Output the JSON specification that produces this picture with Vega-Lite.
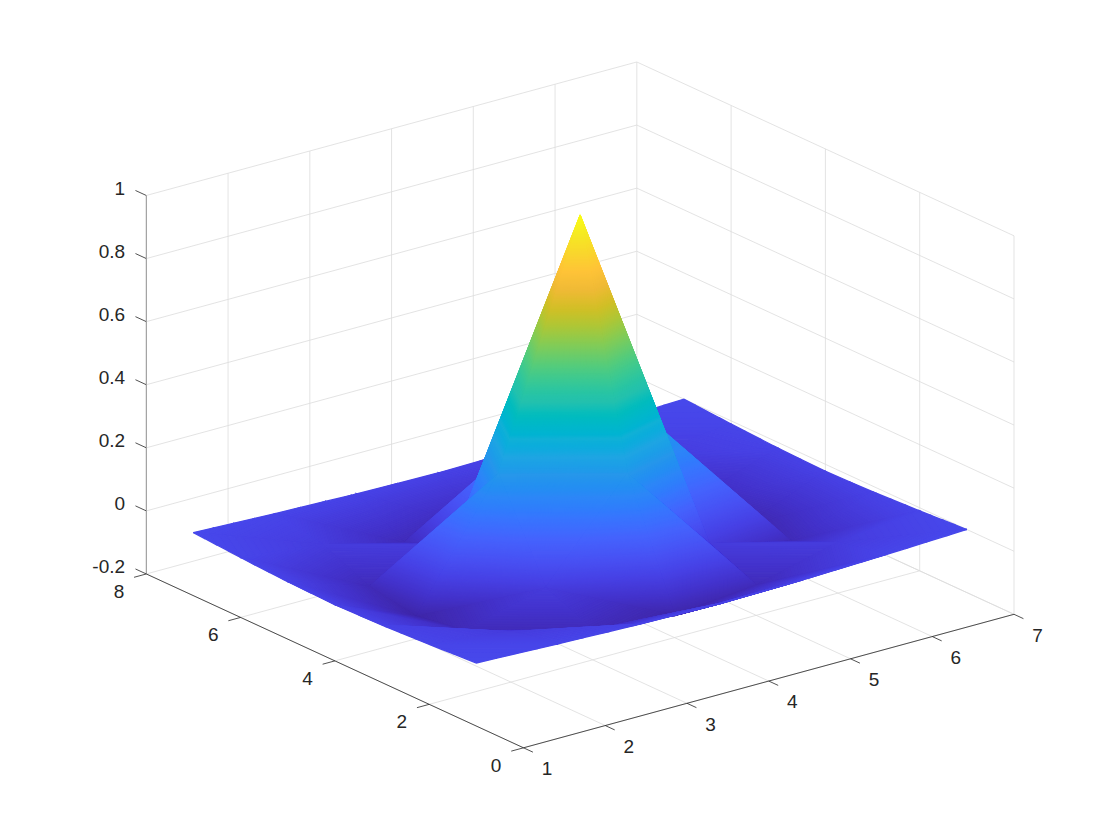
{
"$schema":"https://vega.github.io/schema/vega-lite/v6.json",
"width":1120,"height":840,"padding":0,
"autosize":{"type":"fit","contains":"padding"},
"background":"white",
"config":{"view":{"stroke":null}},
"datasets":{
"grid":[
{"id":77,"x":7,"y":7,"z":0},{"id":76,"x":7,"y":6,"z":-0.01},{"id":75,"x":7,"y":5,"z":-0.018},{"id":74,"x":7,"y":4,"z":-0.022},{"id":73,"x":7,"y":3,"z":-0.018},{"id":72,"x":7,"y":2,"z":-0.01},{"id":71,"x":7,"y":1,"z":0},
{"id":67,"x":6,"y":7,"z":-0.01},{"id":66,"x":6,"y":6,"z":-0.04},{"id":65,"x":6,"y":5,"z":-0.105},{"id":64,"x":6,"y":4,"z":-0.13},{"id":63,"x":6,"y":3,"z":-0.105},{"id":62,"x":6,"y":2,"z":-0.04},{"id":61,"x":6,"y":1,"z":-0.01},
{"id":57,"x":5,"y":7,"z":-0.018},{"id":56,"x":5,"y":6,"z":-0.105},{"id":55,"x":5,"y":5,"z":-0.042},{"id":54,"x":5,"y":4,"z":0.25},{"id":53,"x":5,"y":3,"z":-0.042},{"id":52,"x":5,"y":2,"z":-0.105},{"id":51,"x":5,"y":1,"z":-0.018},
{"id":47,"x":4,"y":7,"z":-0.022},{"id":46,"x":4,"y":6,"z":-0.13},{"id":45,"x":4,"y":5,"z":0.25},{"id":44,"x":4,"y":4,"z":1},{"id":43,"x":4,"y":3,"z":0.25},{"id":42,"x":4,"y":2,"z":-0.13},{"id":41,"x":4,"y":1,"z":-0.022},
{"id":37,"x":3,"y":7,"z":-0.018},{"id":36,"x":3,"y":6,"z":-0.105},{"id":35,"x":3,"y":5,"z":-0.042},{"id":34,"x":3,"y":4,"z":0.25},{"id":33,"x":3,"y":3,"z":-0.042},{"id":32,"x":3,"y":2,"z":-0.105},{"id":31,"x":3,"y":1,"z":-0.018},
{"id":27,"x":2,"y":7,"z":-0.01},{"id":26,"x":2,"y":6,"z":-0.04},{"id":25,"x":2,"y":5,"z":-0.105},{"id":24,"x":2,"y":4,"z":-0.13},{"id":23,"x":2,"y":3,"z":-0.105},{"id":22,"x":2,"y":2,"z":-0.04},{"id":21,"x":2,"y":1,"z":-0.01},
{"id":17,"x":1,"y":7,"z":0},{"id":16,"x":1,"y":6,"z":-0.01},{"id":15,"x":1,"y":5,"z":-0.018},{"id":14,"x":1,"y":4,"z":-0.022},{"id":13,"x":1,"y":3,"z":-0.018},{"id":12,"x":1,"y":2,"z":-0.01},{"id":11,"x":1,"y":1,"z":0}
],
"segments":[
{"k":"g","x":1,"y":0,"z":-0.2,"x2":1,"y2":8,"z2":-0.2},{"k":"g","x":2,"y":0,"z":-0.2,"x2":2,"y2":8,"z2":-0.2},{"k":"g","x":3,"y":0,"z":-0.2,"x2":3,"y2":8,"z2":-0.2},{"k":"g","x":4,"y":0,"z":-0.2,"x2":4,"y2":8,"z2":-0.2},{"k":"g","x":5,"y":0,"z":-0.2,"x2":5,"y2":8,"z2":-0.2},{"k":"g","x":6,"y":0,"z":-0.2,"x2":6,"y2":8,"z2":-0.2},{"k":"g","x":7,"y":0,"z":-0.2,"x2":7,"y2":8,"z2":-0.2},
{"k":"g","x":2,"y":8,"z":-0.2,"x2":2,"y2":8,"z2":1},{"k":"g","x":3,"y":8,"z":-0.2,"x2":3,"y2":8,"z2":1},{"k":"g","x":4,"y":8,"z":-0.2,"x2":4,"y2":8,"z2":1},{"k":"g","x":5,"y":8,"z":-0.2,"x2":5,"y2":8,"z2":1},{"k":"g","x":6,"y":8,"z":-0.2,"x2":6,"y2":8,"z2":1},{"k":"g","x":7,"y":8,"z":-0.2,"x2":7,"y2":8,"z2":1},
{"k":"g","x":1,"y":0,"z":-0.2,"x2":7,"y2":0,"z2":-0.2},{"k":"g","x":1,"y":2,"z":-0.2,"x2":7,"y2":2,"z2":-0.2},{"k":"g","x":1,"y":4,"z":-0.2,"x2":7,"y2":4,"z2":-0.2},{"k":"g","x":1,"y":6,"z":-0.2,"x2":7,"y2":6,"z2":-0.2},{"k":"g","x":1,"y":8,"z":-0.2,"x2":7,"y2":8,"z2":-0.2},
{"k":"g","x":7,"y":0,"z":-0.2,"x2":7,"y2":0,"z2":1},{"k":"g","x":7,"y":2,"z":-0.2,"x2":7,"y2":2,"z2":1},{"k":"g","x":7,"y":4,"z":-0.2,"x2":7,"y2":4,"z2":1},{"k":"g","x":7,"y":6,"z":-0.2,"x2":7,"y2":6,"z2":1},
{"k":"g","x":1,"y":8,"z":0,"x2":7,"y2":8,"z2":0},{"k":"g","x":1,"y":8,"z":0.2,"x2":7,"y2":8,"z2":0.2},{"k":"g","x":1,"y":8,"z":0.4,"x2":7,"y2":8,"z2":0.4},{"k":"g","x":1,"y":8,"z":0.6,"x2":7,"y2":8,"z2":0.6},{"k":"g","x":1,"y":8,"z":0.8,"x2":7,"y2":8,"z2":0.8},{"k":"g","x":1,"y":8,"z":1,"x2":7,"y2":8,"z2":1},
{"k":"g","x":7,"y":8,"z":-0.2,"x2":7,"y2":0,"z2":-0.2},{"k":"g","x":7,"y":8,"z":0,"x2":7,"y2":0,"z2":0},{"k":"g","x":7,"y":8,"z":0.2,"x2":7,"y2":0,"z2":0.2},{"k":"g","x":7,"y":8,"z":0.4,"x2":7,"y2":0,"z2":0.4},{"k":"g","x":7,"y":8,"z":0.6,"x2":7,"y2":0,"z2":0.6},{"k":"g","x":7,"y":8,"z":0.8,"x2":7,"y2":0,"z2":0.8},{"k":"g","x":7,"y":8,"z":1,"x2":7,"y2":0,"z2":1},
{"k":"a","x":1,"y":0,"z":-0.2,"x2":7,"y2":0,"z2":-0.2},{"k":"a","x":1,"y":0,"z":-0.2,"x2":1,"y2":8,"z2":-0.2},{"k":"v","x":1,"y":8,"z":-0.2,"x2":1,"y2":8,"z2":1},
{"k":"a","x":1,"y":0,"z":-0.2,"x2":1,"y2":-0.2,"z2":-0.2},{"k":"a","x":2,"y":0,"z":-0.2,"x2":2,"y2":-0.2,"z2":-0.2},{"k":"a","x":3,"y":0,"z":-0.2,"x2":3,"y2":-0.2,"z2":-0.2},{"k":"a","x":4,"y":0,"z":-0.2,"x2":4,"y2":-0.2,"z2":-0.2},{"k":"a","x":5,"y":0,"z":-0.2,"x2":5,"y2":-0.2,"z2":-0.2},{"k":"a","x":6,"y":0,"z":-0.2,"x2":6,"y2":-0.2,"z2":-0.2},{"k":"a","x":7,"y":0,"z":-0.2,"x2":7,"y2":-0.2,"z2":-0.2},
{"k":"a","x":1,"y":0,"z":-0.2,"x2":0.85,"y2":0,"z2":-0.2},{"k":"a","x":1,"y":2,"z":-0.2,"x2":0.85,"y2":2,"z2":-0.2},{"k":"a","x":1,"y":4,"z":-0.2,"x2":0.85,"y2":4,"z2":-0.2},{"k":"a","x":1,"y":6,"z":-0.2,"x2":0.85,"y2":6,"z2":-0.2},{"k":"a","x":1,"y":8,"z":-0.2,"x2":0.85,"y2":8,"z2":-0.2},
{"k":"a","x":1,"y":8,"z":-0.2,"x2":1,"y2":8.23,"z2":-0.2},{"k":"a","x":1,"y":8,"z":0,"x2":1,"y2":8.23,"z2":0},{"k":"a","x":1,"y":8,"z":0.2,"x2":1,"y2":8.23,"z2":0.2},{"k":"a","x":1,"y":8,"z":0.4,"x2":1,"y2":8.23,"z2":0.4},{"k":"a","x":1,"y":8,"z":0.6,"x2":1,"y2":8.23,"z2":0.6},{"k":"a","x":1,"y":8,"z":0.8,"x2":1,"y2":8.23,"z2":0.8},{"k":"a","x":1,"y":8,"z":1,"x2":1,"y2":8.23,"z2":1}
],
"labels":[
{"axis":"x","value":1,"label":"1"},{"axis":"x","value":2,"label":"2"},{"axis":"x","value":3,"label":"3"},{"axis":"x","value":4,"label":"4"},{"axis":"x","value":5,"label":"5"},{"axis":"x","value":6,"label":"6"},{"axis":"x","value":7,"label":"7"},
{"axis":"y","value":0,"label":"0"},{"axis":"y","value":2,"label":"2"},{"axis":"y","value":4,"label":"4"},{"axis":"y","value":6,"label":"6"},{"axis":"y","value":8,"label":"8"},
{"axis":"z","value":-0.2,"label":"-0.2"},{"axis":"z","value":0,"label":"0"},{"axis":"z","value":0.2,"label":"0.2"},{"axis":"z","value":0.4,"label":"0.4"},{"axis":"z","value":0.6,"label":"0.6"},{"axis":"z","value":0.8,"label":"0.8"},{"axis":"z","value":1,"label":"1"}
]
},
"layer":[
{
"data":{"name":"segments"},
"transform":[
{"calculate":"523.5+81.75*(datum.x-1)-47.15*datum.y","as":"sx"},
{"calculate":"747.8-22.25*(datum.x-1)-21.73*datum.y-315.4*(datum.z+0.2)","as":"sy"},
{"calculate":"523.5+81.75*(datum.x2-1)-47.15*datum.y2","as":"sx2"},
{"calculate":"747.8-22.25*(datum.x2-1)-21.73*datum.y2-315.4*(datum.z2+0.2)","as":"sy2"}
],
"mark":{"type":"rule","strokeWidth":0.8},
"encoding":{
"x":{"field":"sx","type":"quantitative","axis":null,"scale":{"domain":[0,1120],"nice":false,"zero":false}},
"y":{"field":"sy","type":"quantitative","axis":null,"scale":{"domain":[840,0],"nice":false,"zero":false}},
"x2":{"field":"sx2"},"y2":{"field":"sy2"},
"color":{"field":"k","type":"nominal","legend":null,"scale":{"domain":["g","a","v"],"range":["#dcdcdc","#262626","#707070"]}},
"order":{"field":"k","sort":"descending"}
}
},
{
"data":{"name":"grid"},
"transform":[
{"filter":"datum.x<7&&datum.y<7"},
{"calculate":"datum.id+10","as":"ka"},{"calculate":"datum.id+1","as":"kb"},{"calculate":"datum.id+11","as":"kc"},
{"lookup":"ka","from":{"data":{"name":"grid"},"key":"id","fields":["z"]},"as":["za"]},
{"lookup":"kb","from":{"data":{"name":"grid"},"key":"id","fields":["z"]},"as":["zb"]},
{"lookup":"kc","from":{"data":{"name":"grid"},"key":"id","fields":["z"]},"as":["zc"]},
{"calculate":"[1,0]","as":"tri"},{"flatten":["tri"]},
{"calculate":"[datum.tri?datum.x+1:datum.x,datum.x+1,datum.x]","as":"vxs"},
{"calculate":"[datum.tri?datum.y+1:datum.y,datum.y,datum.y+1]","as":"vys"},
{"calculate":"[datum.tri?datum.zc:datum.z,datum.za,datum.zb]","as":"vzs"},
{"calculate":"datum.vzs[0]<=datum.vzs[1]&&datum.vzs[0]<=datum.vzs[2]?0:(datum.vzs[1]<=datum.vzs[2]?1:2)","as":"lo"},
{"calculate":"datum.vzs[2]>=datum.vzs[0]&&datum.vzs[2]>=datum.vzs[1]?2:(datum.vzs[1]>=datum.vzs[0]?1:0)","as":"hi"},
{"calculate":"3-datum.lo-datum.hi","as":"mi"},
{"calculate":"datum.vzs[datum.lo]","as":"zL"},{"calculate":"datum.vzs[datum.mi]","as":"zM"},{"calculate":"datum.vzs[datum.hi]","as":"zH"},
{"calculate":"[0,1,2,3,4,5,6,7,8,9,10,11,12,13,14,15,16,17,18,19,20,21,22,23,24,25,26,27,28,29,30,31,32,33,34,35,36,37,38,39,40,41,42,43,44,45]","as":"tens"},{"flatten":["tens"]},
{"calculate":"[0,1,2,3,4,5,6,7,8,9]","as":"ones"},{"flatten":["ones"]},
{"calculate":"datum.tens*10+datum.ones","as":"band"},
{"calculate":"-0.13+0.0025*datum.band","as":"zk"},
{"filter":"datum.zk<datum.zH&&datum.zk+0.0025>datum.zL"},
{"calculate":"max(datum.zk,datum.zL)","as":"a"},
{"calculate":"min(datum.zk+0.0025,datum.zH)","as":"b"},
{"calculate":"datum.zk+0.00125","as":"height"},
{"calculate":"datum.id*100000+datum.tri*10000+datum.band","as":"patch"},
{"calculate":"[0,1,2,3,4]","as":"corner"},{"flatten":["corner"]},
{"calculate":"datum.corner==0||datum.corner==4?datum.a:datum.b","as":"lev"},
{"calculate":"datum.corner==3&&datum.a<datum.zM&&datum.zM<datum.b","as":"useM"},
{"calculate":"(datum.lev-datum.zL)/(datum.zH-datum.zL)","as":"tl"},
{"calculate":"datum.lev<=datum.zM?(datum.zM>datum.zL?(datum.lev-datum.zL)/(datum.zM-datum.zL):1):(datum.lev-datum.zM)/(datum.zH-datum.zM)","as":"tc"},
{"calculate":"datum.useM?datum.vxs[datum.mi]:(datum.corner<=1?datum.vxs[datum.lo]+(datum.vxs[datum.hi]-datum.vxs[datum.lo])*datum.tl:(datum.lev<=datum.zM?datum.vxs[datum.lo]+(datum.vxs[datum.mi]-datum.vxs[datum.lo])*datum.tc:datum.vxs[datum.mi]+(datum.vxs[datum.hi]-datum.vxs[datum.mi])*datum.tc))","as":"px"},
{"calculate":"datum.useM?datum.vys[datum.mi]:(datum.corner<=1?datum.vys[datum.lo]+(datum.vys[datum.hi]-datum.vys[datum.lo])*datum.tl:(datum.lev<=datum.zM?datum.vys[datum.lo]+(datum.vys[datum.mi]-datum.vys[datum.lo])*datum.tc:datum.vys[datum.mi]+(datum.vys[datum.hi]-datum.vys[datum.mi])*datum.tc))","as":"py"},
{"calculate":"datum.useM?datum.zM:datum.lev","as":"pz"},
{"calculate":"523.5+81.75*(datum.px-1)-47.15*datum.py","as":"sx"},
{"calculate":"747.8-22.25*(datum.px-1)-21.73*datum.py-315.4*(datum.pz+0.2)","as":"sy"}
],
"mark":{"type":"line","interpolate":"linear-closed","strokeWidth":1.3},
"encoding":{
"x":{"field":"sx","type":"quantitative","axis":null,"scale":{"domain":[0,1120],"nice":false,"zero":false}},
"y":{"field":"sy","type":"quantitative","axis":null,"scale":{"domain":[840,0],"nice":false,"zero":false}},
"detail":{"field":"patch"},
"order":{"field":"corner","type":"quantitative"},
"fill":{"field":"height","type":"quantitative","legend":null,"scale":{"domain":[-0.13,-0.0762,-0.0224,0.0314,0.0852,0.139,0.1929,0.2467,0.3005,0.3543,0.4081,0.4619,0.5157,0.5695,0.6233,0.6771,0.731,0.7848,0.8386,0.8924,0.9462,1],"range":["#3E26A8","#4332CB","#4741E5","#4852F4","#4563FD","#3875FE","#2D87F7","#2796EB","#20A5E3","#12B1D6","#02BAC3","#24C1AE","#37C897","#57CC7A","#80CC59","#ABC739","#D1BF27","#EFBA36","#FEC338","#F9D62D","#F5E924","#F9FB15"]}},
"stroke":{"field":"height","type":"quantitative","legend":null,"scale":{"domain":[-0.13,-0.0762,-0.0224,0.0314,0.0852,0.139,0.1929,0.2467,0.3005,0.3543,0.4081,0.4619,0.5157,0.5695,0.6233,0.6771,0.731,0.7848,0.8386,0.8924,0.9462,1],"range":["#3E26A8","#4332CB","#4741E5","#4852F4","#4563FD","#3875FE","#2D87F7","#2796EB","#20A5E3","#12B1D6","#02BAC3","#24C1AE","#37C897","#57CC7A","#80CC59","#ABC739","#D1BF27","#EFBA36","#FEC338","#F9D62D","#F5E924","#F9FB15"]}}
}
},
{
"data":{"name":"labels"},
"transform":[
{"filter":"datum.axis!='z'"},
{"calculate":"datum.axis=='x'?datum.value:0.665","as":"px"},
{"calculate":"datum.axis=='x'?-0.5:datum.value","as":"py"},
{"calculate":"523.5+81.75*(datum.px-1)-47.15*datum.py","as":"sx"},
{"calculate":"747.8-22.25*(datum.px-1)-21.73*datum.py+10.5","as":"sy"}
],
"mark":{"type":"text","font":"Liberation Sans","fontSize":19,"color":"#262626","align":"center","baseline":"middle"},
"encoding":{
"x":{"field":"sx","type":"quantitative","axis":null,"scale":{"domain":[0,1120],"nice":false,"zero":false}},
"y":{"field":"sy","type":"quantitative","axis":null,"scale":{"domain":[840,0],"nice":false,"zero":false}},
"text":{"field":"label"}
}
},
{
"data":{"name":"labels"},
"transform":[
{"filter":"datum.axis=='z'"},
{"calculate":"523.5-47.15*8.45","as":"sx"},
{"calculate":"747.8-21.73*8.45-315.4*(datum.value+0.2)+2.8","as":"sy"}
],
"mark":{"type":"text","font":"Liberation Sans","fontSize":19,"color":"#262626","align":"right","baseline":"middle"},
"encoding":{
"x":{"field":"sx","type":"quantitative","axis":null,"scale":{"domain":[0,1120],"nice":false,"zero":false}},
"y":{"field":"sy","type":"quantitative","axis":null,"scale":{"domain":[840,0],"nice":false,"zero":false}},
"text":{"field":"label"}
}
}
],
"resolve":{"scale":{"color":"independent"}}
}
